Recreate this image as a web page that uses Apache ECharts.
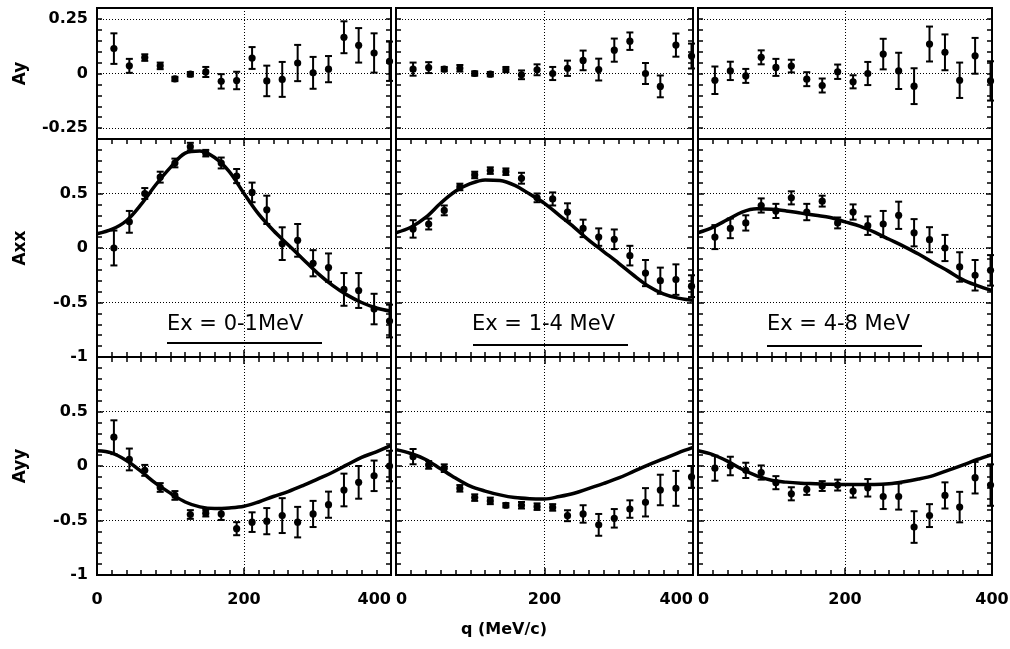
<!DOCTYPE html>
<html><head><meta charset="utf-8">
<script src="https://cdn.jsdelivr.net/npm/echarts@6/dist/echarts.min.js"></script>
<style>html,body{margin:0;padding:0;background:#fff}#c{width:1010px;height:649px}</style>
</head><body><div id="c"></div>
<script>
// ---- data ----
const qData = [23,44,65,86,106,127,148,169,190,211,231,252,273,294,315,336,356,377,398];
const qTheory = [0,20,40,60,80,100,120,140,160,180,200,220,240,260,280,300,320,340,360,380,400];
const rowNames = ['Ay','Axx','Ayy'];
const panelLabels = ['Ex = 0-1MeV','Ex = 1-4 MeV','Ex = 4-8 MeV'];
const xTickLabels = ['0','200','400'];

const ay1 = [0.114,0.035,0.073,0.035,-0.025,-0.003,0.007,-0.036,-0.032,0.071,-0.034,-0.027,0.048,0.003,0.02,0.166,0.129,0.094,0.056];
const ay1Err = [0.07,0.032,0.015,0.015,0.01,0.01,0.023,0.033,0.04,0.05,0.07,0.08,0.083,0.073,0.06,0.073,0.079,0.09,0.09];
const ay2 = [0.02,0.027,0.02,0.024,0.0,-0.003,0.018,-0.006,0.017,0.0,0.024,0.06,0.018,0.107,0.148,0.0,-0.059,0.13,0.08];
const ay2Err = [0.03,0.025,0.01,0.015,0.01,0.01,0.012,0.02,0.025,0.03,0.035,0.045,0.05,0.053,0.04,0.048,0.05,0.053,0.057];
const ay3 = [-0.031,0.012,-0.011,0.074,0.028,0.034,-0.026,-0.055,0.008,-0.038,0.0,0.089,0.012,-0.058,0.135,0.097,-0.031,0.081,-0.034];
const ay3Err = [0.063,0.042,0.032,0.032,0.039,0.029,0.032,0.032,0.033,0.03,0.053,0.07,0.083,0.082,0.08,0.082,0.081,0.082,0.09];

const axx1 = [0.0,0.24,0.5,0.65,0.78,0.93,0.87,0.78,0.66,0.51,0.35,0.04,0.07,-0.14,-0.18,-0.38,-0.39,-0.56,-0.67];
const axx1Err = [0.16,0.1,0.05,0.05,0.04,0.035,0.03,0.05,0.065,0.09,0.13,0.15,0.15,0.12,0.13,0.15,0.16,0.14,0.15];
const axx2 = [0.175,0.22,0.345,0.56,0.67,0.71,0.70,0.64,0.46,0.45,0.33,0.18,0.10,0.08,-0.07,-0.23,-0.30,-0.29,-0.35];
const axx2Err = [0.08,0.05,0.045,0.03,0.03,0.03,0.03,0.05,0.04,0.06,0.08,0.08,0.08,0.09,0.09,0.12,0.12,0.14,0.1];
const axx3 = [0.10,0.18,0.23,0.39,0.34,0.46,0.33,0.43,0.23,0.33,0.205,0.22,0.30,0.14,0.076,0.0,-0.174,-0.25,-0.205];
const axx3Err = [0.11,0.09,0.07,0.065,0.065,0.06,0.075,0.05,0.05,0.07,0.085,0.12,0.125,0.125,0.115,0.12,0.135,0.14,0.14];

const ayy1 = [0.264,0.06,-0.04,-0.197,-0.27,-0.445,-0.433,-0.44,-0.575,-0.515,-0.506,-0.455,-0.515,-0.44,-0.355,-0.22,-0.15,-0.09,0.0];
const ayy1Err = [0.155,0.1,0.05,0.04,0.04,0.04,0.03,0.055,0.06,0.09,0.12,0.16,0.14,0.12,0.12,0.15,0.15,0.14,0.14];
const ayy2 = [0.086,0.01,-0.02,-0.205,-0.29,-0.32,-0.36,-0.36,-0.373,-0.38,-0.456,-0.44,-0.54,-0.48,-0.395,-0.333,-0.22,-0.205,-0.1];
const ayy2Err = [0.07,0.035,0.035,0.03,0.03,0.03,0.02,0.03,0.03,0.03,0.05,0.08,0.1,0.085,0.08,0.13,0.14,0.16,0.1];
const ayy3 = [-0.02,0.0,-0.04,-0.06,-0.153,-0.255,-0.215,-0.184,-0.175,-0.23,-0.2,-0.28,-0.28,-0.56,-0.455,-0.27,-0.377,-0.107,-0.175];
const ayy3Err = [0.115,0.085,0.07,0.065,0.06,0.06,0.05,0.045,0.05,0.06,0.08,0.115,0.12,0.145,0.105,0.12,0.14,0.145,0.19];

const axxTh1 = [0.13,0.17,0.25,0.40,0.58,0.74,0.87,0.89,0.83,0.70,0.50,0.31,0.16,0.03,-0.10,-0.23,-0.34,-0.43,-0.50,-0.55,-0.58];
const axxTh2 = [0.14,0.19,0.28,0.41,0.52,0.59,0.625,0.62,0.575,0.495,0.41,0.30,0.19,0.07,-0.035,-0.14,-0.25,-0.35,-0.42,-0.46,-0.48];
const axxTh3 = [0.14,0.19,0.26,0.33,0.36,0.355,0.34,0.32,0.30,0.28,0.24,0.20,0.145,0.08,0.015,-0.055,-0.135,-0.21,-0.29,-0.345,-0.39];
const ayyTh1 = [0.14,0.12,0.05,-0.05,-0.16,-0.25,-0.33,-0.375,-0.39,-0.385,-0.37,-0.33,-0.28,-0.235,-0.18,-0.12,-0.06,0.01,0.08,0.13,0.19];
const ayyTh2 = [0.15,0.115,0.06,-0.025,-0.11,-0.185,-0.23,-0.265,-0.29,-0.30,-0.302,-0.28,-0.25,-0.205,-0.16,-0.11,-0.05,0.01,0.065,0.12,0.17];
const ayyTh3 = [0.14,0.105,0.045,-0.03,-0.09,-0.13,-0.148,-0.158,-0.162,-0.167,-0.169,-0.169,-0.169,-0.163,-0.145,-0.12,-0.088,-0.04,0.008,0.06,0.105];

const measured = [[ay1,ay2,ay3],[axx1,axx2,axx3],[ayy1,ayy2,ayy3]];
const measuredErr = [[ay1Err,ay2Err,ay3Err],[axx1Err,axx2Err,axx3Err],[ayy1Err,ayy2Err,ayy3Err]];
const theory = [[null,null,null],[axxTh1,axxTh2,axxTh3],[ayyTh1,ayyTh2,ayyTh3]];

// ---- layout ----
const colLeft = [97,396,698], colWidth = [294,297,294];
const rowTop = [8,139,357], rowHeight = [131,218,218];
const FONT = 'DejaVu Sans';
const dotted = {type:[1,2], color:'#000', width:1};
const tickStyle = {color:'#000', width:1.5};
const noLine = {show:false, onZero:false};

function renderErr(params, api){
  const x = api.value(0), y = api.value(1), e = api.value(2);
  const p = api.coord([x,y]);
  const t = api.coord([x,y+e]);
  const b = api.coord([x,y-e]);
  const cw = 3.5, st = {stroke:'#000', lineWidth:2};
  return {type:'group', children:[
    {type:'line', shape:{x1:p[0],y1:t[1],x2:p[0],y2:b[1]}, style:st},
    {type:'line', shape:{x1:p[0]-cw,y1:t[1],x2:p[0]+cw,y2:t[1]}, style:st},
    {type:'line', shape:{x1:p[0]-cw,y1:b[1],x2:p[0]+cw,y2:b[1]}, style:st},
    {type:'circle', shape:{cx:p[0],cy:p[1],r:3.6}, style:{fill:'#000'}}
  ]};
}

const grids=[], xAxes=[], yAxes=[], series=[], graphics=[];
for (let r=0;r<3;r++){
  for (let c=0;c<3;c++){
    const gi = grids.length;
    grids.push({left:colLeft[c], top:rowTop[r], width:colWidth[c], height:rowHeight[r],
      show:true, borderColor:'#000', borderWidth:2, backgroundColor:'transparent',
      containLabel:false, outerBoundsMode:'none'});
    const ticksOn = r>0;
    const xi = xAxes.length;
    xAxes.push({gridIndex:gi, type:'value', min:0, max:400, interval:200, position:'bottom',
      axisLine:noLine,
      axisTick:{show:ticksOn, inside:true, length:7, lineStyle:tickStyle},
      minorTick:{show:ticksOn, splitNumber:10, length:5, lineStyle:tickStyle},
      minorSplitLine:{show:false},
      axisLabel:{show:r===2, fontFamily:FONT, fontWeight:'bold', fontSize:16, color:'#000', margin:17,
        alignMinLabel: c===0 ? 'center' : 'left',
        alignMaxLabel: c===2 ? 'center' : 'right',
        formatter:(v)=> v===0?xTickLabels[0]:(v===200?xTickLabels[1]:xTickLabels[2])},
      splitLine:{show:true, lineStyle:dotted}});
    xAxes.push({gridIndex:gi, type:'value', min:0, max:400, interval:200, position:'top',
      axisLine:noLine,
      axisTick:{show:ticksOn, inside:true, length:7, lineStyle:tickStyle},
      minorTick:{show:ticksOn, splitNumber:10, length:5, lineStyle:tickStyle},
      axisLabel:{show:false}, splitLine:{show:false}});
    const yi = yAxes.length;
    const labelStyle = {show:c===0, fontFamily:FONT, fontWeight:'bold', fontSize:16, color:'#000', margin:9};
    const nameOpt = c===0 ? {name:rowNames[r], nameLocation:'middle', nameRotate:90, nameGap:68,
      nameTextStyle:{fontFamily:FONT, fontWeight:'bold', fontSize:17, color:'#000'}} : {};
    if (r===0){
      const fmt = (v)=> Math.abs(v)<1e-9 ? '0' : (Math.abs(Math.abs(v)-0.25)<1e-9 ? (v<0?'-0.25':'0.25') : '');
      yAxes.push(Object.assign({gridIndex:gi, type:'value', min:-0.3, max:0.3, interval:0.05, position:'left',
        axisLine:noLine, axisTick:{show:true, inside:true, length:5, lineStyle:tickStyle},
        axisLabel:Object.assign({formatter:fmt}, labelStyle), splitLine:{show:false}}, nameOpt));
      yAxes.push({gridIndex:gi, type:'value', min:-0.3, max:0.3, interval:0.05, position:'right',
        axisLine:noLine, axisTick:{show:true, inside:true, length:5, lineStyle:tickStyle},
        axisLabel:{show:false}, splitLine:{show:false}});
    } else {
      const fmt = (v)=> v>0.99 ? '' : String(v);
      yAxes.push(Object.assign({gridIndex:gi, type:'value', min:-1, max:1, interval:0.5, position:'left',
        axisLine:noLine, axisTick:{show:true, inside:true, length:6, lineStyle:tickStyle},
        minorTick:{show:true, splitNumber:5, length:5, lineStyle:tickStyle},
        axisLabel:Object.assign({formatter:fmt}, labelStyle), splitLine:{show:true, lineStyle:dotted}}, nameOpt));
      yAxes.push({gridIndex:gi, type:'value', min:-1, max:1, interval:0.5, position:'right',
        axisLine:noLine, axisTick:{show:true, inside:true, length:6, lineStyle:tickStyle},
        minorTick:{show:true, splitNumber:5, length:5, lineStyle:tickStyle},
        axisLabel:{show:false}, splitLine:{show:false}});
    }
    const vals = measured[r][c], errs = measuredErr[r][c];
    const s = {type:'custom', xAxisIndex:xi, yAxisIndex:yi, renderItem:renderErr, clip:false,
      encode:{x:0, y:1}, z:5,
      data: qData.map((q,i)=>[q, vals[i], errs[i]])};
    if (r===0){
      s.markLine = {silent:true, symbol:'none', label:{show:false}, lineStyle:dotted, z:1,
        data:[{yAxis:0.25},{yAxis:0},{yAxis:-0.25}]};
    }
    series.push(s);
    const th = theory[r][c];
    if (th){
      series.push({type:'line', xAxisIndex:xi, yAxisIndex:yi, smooth:0.35, showSymbol:false, z:4,
        lineStyle:{color:'#000', width:3.5}, data:qTheory.map((q,i)=>[q, th[i]])});
    }
  }
}

const labelPos = [[167,327,167,322,343],[472,327,473,628,345],[767,327,767,922,346]];
for (let c=0;c<3;c++){
  const p = labelPos[c];
  graphics.push({type:'text', left:p[0], top:p[1]-13, style:{text:panelLabels[c], font:'21px "DejaVu Sans"', fill:'#000'}});
  graphics.push({type:'line', shape:{x1:p[2], y1:p[4], x2:p[3], y2:p[4]}, style:{stroke:'#000', lineWidth:2}});
}
graphics.push({type:'text', left:461, top:622, style:{text:'q (MeV/c)', font:'bold 16px "DejaVu Sans"', fill:'#000'}});

const chart = echarts.init(document.getElementById('c'), null, {renderer:'canvas'});
chart.setOption({animation:false, backgroundColor:'#fff', grid:grids, xAxis:xAxes, yAxis:yAxes, series:series, graphic:graphics});
</script></body></html>
